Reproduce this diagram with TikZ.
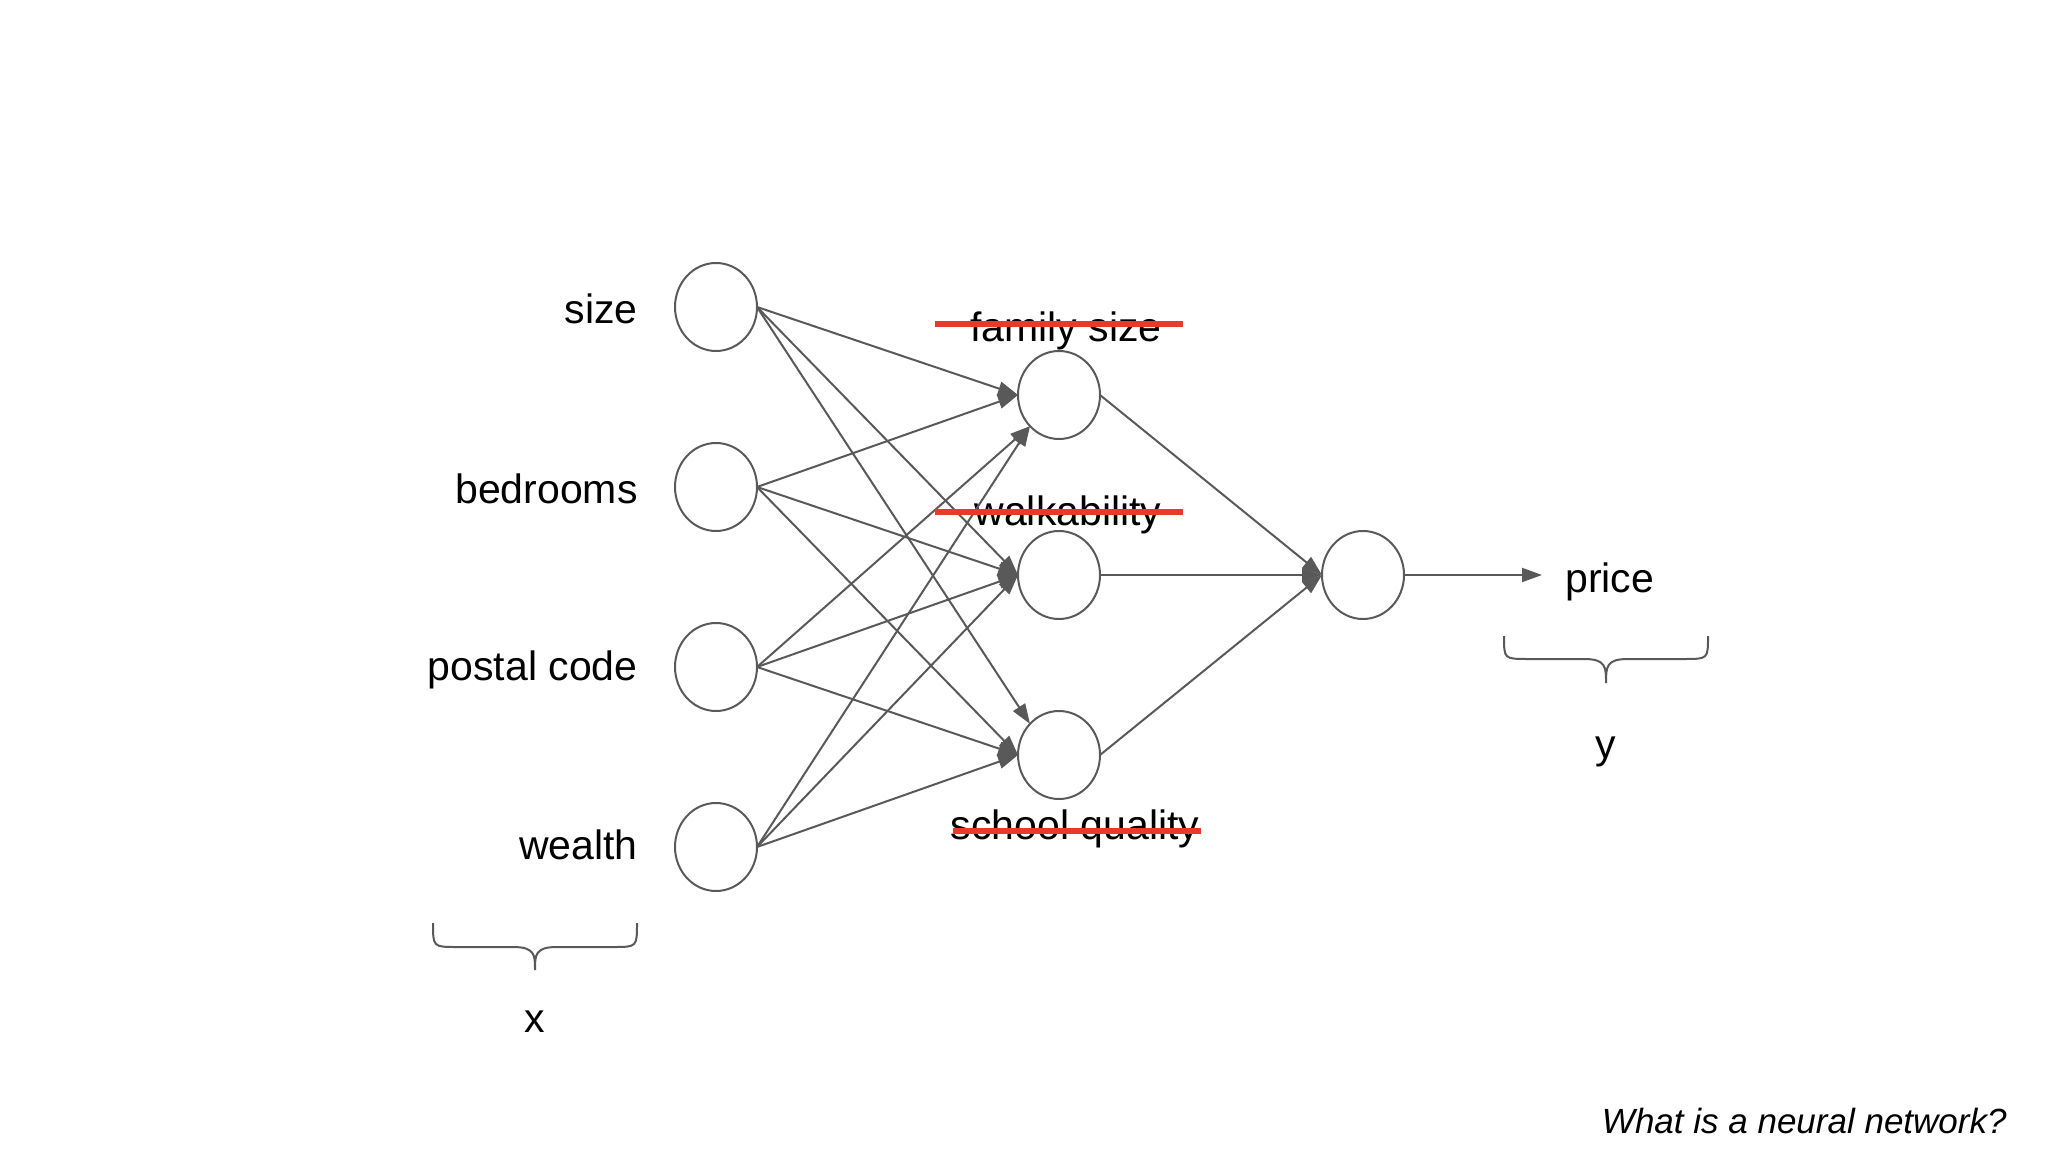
\documentclass[tikz,border=0pt]{standalone}
\usepackage{fontspec}
\setmainfont{Liberation Sans}
\usetikzlibrary{shapes.geometric,arrows.meta}
\definecolor{edgegray}{HTML}{595959}
\definecolor{strikered}{HTML}{E8392B}
\begin{document}
\begin{tikzpicture}[x=0.5pt,y=-0.5pt,
  neuron/.style={ellipse,draw=edgegray,line width=1pt,minimum width=41pt,minimum height=44pt,inner sep=0pt,outer sep=0pt},
  conn/.style={draw=edgegray,line width=1pt,-{Triangle[length=10pt,width=7pt]}},
  lbl/.style={font=\fontsize{20.5}{24}\selectfont,inner sep=0pt},
  strike/.style={draw=strikered,line width=3.3pt},
  brace/.style={draw=edgegray,line width=1pt},
  titlelbl/.style={font=\fontsize{17.5}{21}\selectfont\itshape,inner sep=0pt}]
\useasboundingbox (0,0) rectangle (2064,1154);

% input layer
\node[neuron] (i1) at (716,307) {};
\node[neuron] (i2) at (716,487) {};
\node[neuron] (i3) at (716,667) {};
\node[neuron] (i4) at (716,847) {};
% hidden layer
\node[neuron] (h1) at (1059,395) {};
\node[neuron] (h2) at (1059,575) {};
\node[neuron] (h3) at (1059,755) {};
% output
\node[neuron] (o) at (1363,575) {};
\coordinate (pe) at (1542,575);

% input labels
\node[lbl,anchor=base east] (l1) at (638,324) {size};
\node[lbl,anchor=base east] (l2) at (638,503) {bedrooms};
\node[lbl,anchor=base east] (l3) at (638,680) {postal code};
\node[lbl,anchor=base east] (l4) at (638,859) {wealth};

% hidden labels
\node[lbl,anchor=base] (hl1) at (1066,342) {family size};
\node[lbl,anchor=base] (hl2) at (1068,525) {walkability};
\node[lbl,anchor=base] (hl3) at (1075,839) {school quality};

% output label
\node[lbl,anchor=base west] (price) at (1565,592) {price};
\node[lbl,anchor=base] (ylbl) at (1606,758) {y};
\node[lbl,anchor=base] (xlbl) at (535,1032) {x};

% connectors
\draw[conn] (i1.east) -- (h1.west);
\draw[conn] (i1.east) -- (h2.west);
\draw[conn] (i1.east) -- (h3.north west);
\draw[conn] (i2.east) -- (h1.west);
\draw[conn] (i2.east) -- (h2.west);
\draw[conn] (i2.east) -- (h3.west);
\draw[conn] (i3.east) -- (h1.south west);
\draw[conn] (i3.east) -- (h2.west);
\draw[conn] (i3.east) -- (h3.west);
\draw[conn] (i4.east) -- (h1.south west);
\draw[conn] (i4.east) -- (h2.west);
\draw[conn] (i4.east) -- (h3.west);
\draw[conn] (h1.east) -- (o.west);
\draw[conn] (h2.east) -- (o.west);
\draw[conn] (h3.east) -- (o.west);
\draw[conn] (o.east) -- (pe);

% strike-through lines
\draw[strike] (935,324) -- (1183,324);
\draw[strike] (935,512) -- (1183,512);
\draw[strike] (953,831) -- (1201,831);

% braces
\draw[brace] (433,923) .. controls (433,947) .. (457,947) -- (513,947)
  .. controls (535,947) and (535,955) .. (535,970)
  .. controls (535,955) and (535,947) .. (557,947) -- (613,947)
  .. controls (637,947) .. (637,923);
\draw[brace] (1504,636) .. controls (1504,659) .. (1528,659) -- (1584,659)
  .. controls (1606,659) and (1606,667) .. (1606,683)
  .. controls (1606,667) and (1606,659) .. (1628,659) -- (1684,659)
  .. controls (1708,659) .. (1708,636);

% title
\node[titlelbl,anchor=base east] (title) at (2007,1133) {What is a neural network?};
\end{tikzpicture}
\end{document}
